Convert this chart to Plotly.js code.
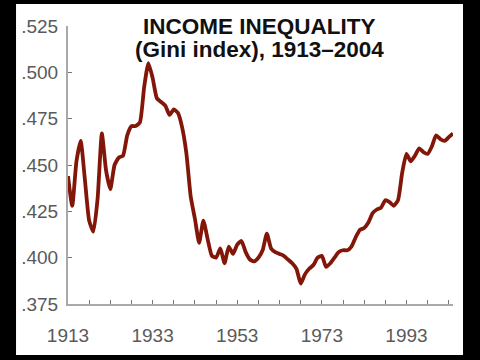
<!DOCTYPE html>
<html>
<head>
<meta charset="utf-8">
<script src="https://cdn.plot.ly/plotly-3.0.1.min.js"></script>
<style>
html,body{margin:0;padding:0;background:#000;}
#chart{width:480px;height:360px;}
</style>
</head>
<body>
<div id="chart"></div>
<script>
// Data
var years = [];
for (var yr = 1913; yr <= 2004; yr++) years.push(yr);

var gini = [
  0.444, 0.428, 0.452, 0.463, 0.442, 0.420, 0.414, 0.432, 0.467, 0.447, // 1913-1922
  0.437, 0.450, 0.454, 0.455, 0.466, 0.471, 0.471, 0.473, 0.492, 0.505, // 1923-1932
  0.497, 0.486, 0.484, 0.482, 0.477, 0.480, 0.478, 0.470, 0.456, 0.433, // 1933-1942
  0.421, 0.408, 0.420, 0.410, 0.401, 0.400, 0.405, 0.397, 0.406, 0.402, // 1943-1952
  0.407, 0.409, 0.403, 0.399, 0.398, 0.400, 0.404, 0.413, 0.405, 0.403, // 1953-1962
  0.402, 0.401, 0.399, 0.397, 0.394, 0.386, 0.391, 0.394, 0.396, 0.400, // 1963-1972
  0.401, 0.395, 0.397, 0.400, 0.403, 0.404, 0.404, 0.406, 0.411, 0.415, // 1973-1982
  0.416, 0.419, 0.424, 0.426, 0.427, 0.431, 0.430, 0.428, 0.431, 0.446, // 1983-1992
  0.456, 0.452, 0.455, 0.459, 0.457, 0.456, 0.460, 0.466, 0.464, 0.463, // 1993-2002
  0.465, 0.467                                                          // 2003-2004
];

var xTickVals = [1913, 1933, 1953, 1973, 1993];
var xTickText = ['1913', '1933', '1953', '1973', '1993'];
var yTickVals = [0.375, 0.400, 0.425, 0.450, 0.475, 0.500, 0.525];
var yTickText = ['.375', '.400', '.425', '.450', '.475', '.500', '.525'];
var titleLine1 = 'INCOME INEQUALITY';
var titleLine2 = '(Gini index), 1913\u20132004';

var trace = {
  x: years,
  y: gini,
  type: 'scatter',
  mode: 'lines',
  line: {color: '#821608', width: 3.8, shape: 'spline', smoothing: 0.5},
  hoverinfo: 'skip'
};

var axisGray = '#a9a9a9';
var labelFont = {family: 'Liberation Sans, Arial, sans-serif', size: 19, color: '#5a5a5a'};

var layout = {
  width: 480,
  height: 360,
  margin: {l: 68, r: 27, t: 26, b: 56, pad: 0},
  paper_bgcolor: '#000000',
  plot_bgcolor: 'rgba(0,0,0,0)',
  showlegend: false,
  xaxis: {
    range: [1913, 2004],
    showgrid: false,
    zeroline: false,
    showline: true,
    linecolor: axisGray,
    linewidth: 2,
    tickmode: 'array',
    tickvals: xTickVals,
    ticktext: xTickText,
    ticks: 'inside',
    ticklen: 4,
    tickwidth: 1,
    tickcolor: '#777',
    tickfont: labelFont,
    ticklabelstandoff: 13,
    minor: {tick0: 1913, dtick: 5, ticks: 'inside', ticklen: 4, tickwidth: 1, tickcolor: '#777', showgrid: false}
  },
  yaxis: {
    range: [0.375, 0.525],
    showgrid: false,
    zeroline: false,
    showline: true,
    linecolor: axisGray,
    linewidth: 2,
    tickmode: 'array',
    tickvals: yTickVals,
    ticktext: yTickText,
    ticks: 'inside',
    ticklen: 4,
    tickwidth: 1,
    tickcolor: '#777',
    tickfont: labelFont,
    ticklabelstandoff: 4
  },
  shapes: [{
    type: 'rect', xref: 'paper', yref: 'paper', layer: 'below',
    x0: -0.135, x1: 1.026, y0: -0.1835, y1: 1.079,
    fillcolor: '#ffffff', line: {width: 0}
  }],
  annotations: [
    {text: '<b>' + titleLine1 + '</b>', xref: 'paper', yref: 'paper', x: 0.498, y: 1.0,
     xanchor: 'center', yanchor: 'middle', showarrow: false,
     font: {family: 'Liberation Sans, Arial, sans-serif', size: 22.5, color: '#111'}},
    {text: '<b>' + titleLine2 + '</b>', xref: 'paper', yref: 'paper', x: 0.498, y: 0.914,
     xanchor: 'center', yanchor: 'middle', showarrow: false,
     font: {family: 'Liberation Sans, Arial, sans-serif', size: 22.5, color: '#111'}}
  ]
};

Plotly.newPlot('chart', [trace], layout, {displayModeBar: false, staticPlot: true});
</script>
</body>
</html>
